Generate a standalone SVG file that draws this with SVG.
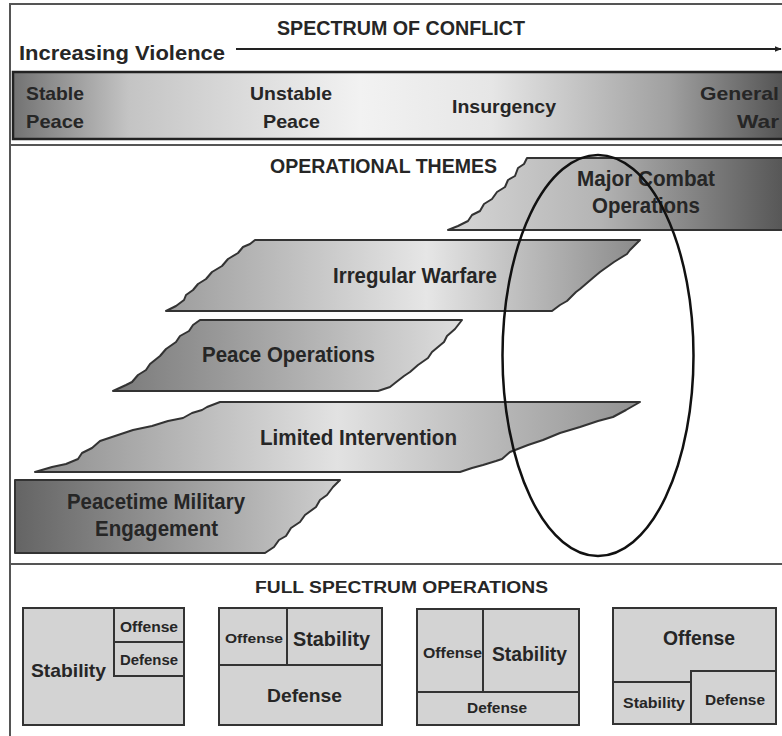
<svg xmlns="http://www.w3.org/2000/svg" width="782" height="736" viewBox="0 0 782 736">
<style>
text{font-family:"Liberation Sans",Arial,sans-serif;font-weight:bold;fill:#262626}
.shape{stroke:#333;stroke-width:2;stroke-linejoin:round}
.box{fill:#d3d3d3;stroke:#333;stroke-width:2}
.ln{stroke:#333;stroke-width:2;fill:none}
.frame{stroke:#555;stroke-width:2;fill:none}
</style>
<defs>
<linearGradient id="gBand" x1="0" y1="0" x2="1" y2="0">
<stop offset="0" stop-color="#727272"/><stop offset="0.15" stop-color="#c4c4c4"/><stop offset="0.45" stop-color="#f2f2f2"/><stop offset="0.62" stop-color="#e6e6e6"/><stop offset="0.85" stop-color="#a0a0a0"/><stop offset="1" stop-color="#525252"/>
</linearGradient>
<linearGradient id="gMajor" x1="0" y1="0" x2="1" y2="0">
<stop offset="0" stop-color="#d6d6d6"/><stop offset="0.45" stop-color="#b4b4b4"/><stop offset="1" stop-color="#565656"/>
</linearGradient>
<linearGradient id="gIrr" x1="0" y1="0" x2="1" y2="0">
<stop offset="0" stop-color="#9c9c9c"/><stop offset="0.55" stop-color="#e6e6e6"/><stop offset="1" stop-color="#8a8a8a"/>
</linearGradient>
<linearGradient id="gPeace" x1="0" y1="0" x2="1" y2="0">
<stop offset="0" stop-color="#7a7a7a"/><stop offset="1" stop-color="#dedede"/>
</linearGradient>
<linearGradient id="gLim" x1="0" y1="0" x2="1" y2="0">
<stop offset="0" stop-color="#8e8e8e"/><stop offset="0.5" stop-color="#e2e2e2"/><stop offset="1" stop-color="#929292"/>
</linearGradient>
<linearGradient id="gPme" x1="0" y1="0" x2="1" y2="0">
<stop offset="0" stop-color="#646464"/><stop offset="1" stop-color="#d0d0d0"/>
</linearGradient>
<marker id="arr" viewBox="0 0 10 10" refX="9" refY="5" markerWidth="7" markerHeight="7" orient="auto" markerUnits="userSpaceOnUse">
<path d="M0,1 L10,5 L0,9 Z" fill="#222"/>
</marker>
</defs>
<rect width="782" height="736" fill="#fff"/>
<g id="frame">
<path class="frame" d="M10,736 L10,4 L782,4"/>
<line class="frame" x1="10" y1="145" x2="782" y2="145"/>
<line class="frame" x1="10" y1="564" x2="782" y2="564"/>
</g>
<g id="spectrum-title">
<text x="277" y="35" font-size="21" textLength="248" lengthAdjust="spacingAndGlyphs">SPECTRUM OF CONFLICT</text>
<text x="19" y="60" font-size="21" textLength="206" lengthAdjust="spacingAndGlyphs">Increasing Violence</text>
</g>
<g id="connectors">
<line x1="236" y1="49" x2="781" y2="49" stroke="#222" stroke-width="2.2" marker-end="url(#arr)"/>
</g>
<g id="spectrum-band">
<rect x="13" y="72" width="772" height="67" fill="url(#gBand)" stroke="#222" stroke-width="2.5"/>
<text x="26" y="100" font-size="19" textLength="58" lengthAdjust="spacingAndGlyphs">Stable</text>
<text x="26" y="128" font-size="19" textLength="58" lengthAdjust="spacingAndGlyphs">Peace</text>
<text x="250" y="100" font-size="19" textLength="82" lengthAdjust="spacingAndGlyphs">Unstable</text>
<text x="263" y="128" font-size="19" textLength="57" lengthAdjust="spacingAndGlyphs">Peace</text>
<text x="452" y="113" font-size="19" textLength="104" lengthAdjust="spacingAndGlyphs">Insurgency</text>
<text x="700" y="100" font-size="19" textLength="79" lengthAdjust="spacingAndGlyphs">General</text>
<text x="737" y="128" font-size="19" textLength="42" lengthAdjust="spacingAndGlyphs">War</text>
</g>
<g id="operational-themes-title">
<text x="270" y="173" font-size="20" textLength="227" lengthAdjust="spacingAndGlyphs">OPERATIONAL THEMES</text>
</g>
<g id="major-combat-operations">
<path class="shape" fill="url(#gMajor)" d="M527,158 L784,158 L784,230 L448,230 L458,226 L468,221 L472,215 L480,211 L484,204 L492,199 L497,192 L505,187 L508,180 L515,176 L518,168 L524,164 Z"/>
<text x="577" y="186" font-size="22" textLength="138" lengthAdjust="spacingAndGlyphs">Major Combat</text>
<text x="592" y="213" font-size="22" textLength="108" lengthAdjust="spacingAndGlyphs">Operations</text>
</g>
<g id="irregular-warfare">
<path class="shape" fill="url(#gIrr)" d="M255,240 L640,240 L630,250 L627,254 L614,262 L600,272 L594,277 L580,289 L576,292 L567,301 L560,305 L552,311 L166,311 L176,306 L184,300 L186,295 L193,290 L198,284 L206,279 L212,272 L222,266 L228,259 L238,253 L243,247 L250,244 Z"/>
<text x="333" y="283" font-size="22" textLength="164" lengthAdjust="spacingAndGlyphs">Irregular Warfare</text>
</g>
<g id="peace-operations">
<path class="shape" fill="url(#gPeace)" d="M200,320 L462,320 L455,329 L447,336 L444,342 L432,352 L428,358 L418,365 L410,372 L404,376 L395,383 L390,387 L378,391 L113,391 L126,385 L132,382 L138,375 L146,370 L150,364 L160,356 L166,349 L176,342 L180,336 L189,331 L193,325 Z"/>
<text x="202" y="362" font-size="22" textLength="173" lengthAdjust="spacingAndGlyphs">Peace Operations</text>
</g>
<g id="limited-intervention">
<path class="shape" fill="url(#gLim)" d="M220,402 L640,402 L626,410 L613,417 L598,421 L580,427 L560,433 L543,440 L528,445 L510,452 L502,459 L496,461 L483,465 L472,468 L460,472 L35,472 L52,467 L66,464 L78,459 L82,453 L92,448 L100,441 L115,436 L133,430 L152,426 L168,421 L183,418 L192,413 L202,410 L207,407 Z"/>
<text x="260" y="445" font-size="22" textLength="197" lengthAdjust="spacingAndGlyphs">Limited Intervention</text>
</g>
<g id="peacetime-military-engagement">
<path class="shape" fill="url(#gPme)" d="M15,480 L340,480 L333,487 L327,495 L320,500 L316,507 L305,515 L300,522 L291,528 L286,536 L279,540 L274,547 L265,553 L15,553 Z"/>
<text x="67" y="509" font-size="22" textLength="178" lengthAdjust="spacingAndGlyphs">Peacetime Military</text>
<text x="95" y="536" font-size="22" textLength="123" lengthAdjust="spacingAndGlyphs">Engagement</text>
</g>
<g id="focus-ellipse">
<ellipse cx="598" cy="355.5" rx="95.5" ry="200.5" fill="none" stroke="#111" stroke-width="2.5"/>
</g>
<g id="full-spectrum-title">
<text x="255" y="593" font-size="16" textLength="293" lengthAdjust="spacingAndGlyphs">FULL SPECTRUM OPERATIONS</text>
</g>
<g id="box-1">
<rect class="box" x="23" y="608" width="161" height="117"/>
<path class="ln" d="M114,608 L114,676 L184,676 M114,642 L184,642"/>
<text x="120" y="632" font-size="14" textLength="58" lengthAdjust="spacingAndGlyphs">Offense</text>
<text x="120" y="665" font-size="14" textLength="58" lengthAdjust="spacingAndGlyphs">Defense</text>
<text x="31" y="677" font-size="19" textLength="75" lengthAdjust="spacingAndGlyphs">Stability</text>
</g>
<g id="box-2">
<rect class="box" x="219" y="608" width="163" height="117"/>
<path class="ln" d="M287,608 L287,665 M219,665 L382,665"/>
<text x="225" y="643" font-size="13" textLength="58" lengthAdjust="spacingAndGlyphs">Offense</text>
<text x="293" y="646" font-size="20" textLength="77" lengthAdjust="spacingAndGlyphs">Stability</text>
<text x="267" y="702" font-size="19" textLength="75" lengthAdjust="spacingAndGlyphs">Defense</text>
</g>
<g id="box-3">
<rect class="box" x="417" y="609" width="162" height="116"/>
<path class="ln" d="M483,609 L483,692 M417,692 L579,692"/>
<text x="423" y="658" font-size="14" textLength="59" lengthAdjust="spacingAndGlyphs">Offense</text>
<text x="492" y="661" font-size="20" textLength="75" lengthAdjust="spacingAndGlyphs">Stability</text>
<text x="467" y="713" font-size="14" textLength="60" lengthAdjust="spacingAndGlyphs">Defense</text>
</g>
<g id="box-4">
<rect class="box" x="613" y="608" width="163" height="116"/>
<path class="ln" d="M613,682 L691,682 M691,724 L691,671 L776,671"/>
<text x="663" y="645" font-size="20" textLength="72" lengthAdjust="spacingAndGlyphs">Offense</text>
<text x="623" y="708" font-size="14" textLength="62" lengthAdjust="spacingAndGlyphs">Stability</text>
<text x="705" y="705" font-size="14" textLength="60" lengthAdjust="spacingAndGlyphs">Defense</text>
</g>
</svg>
